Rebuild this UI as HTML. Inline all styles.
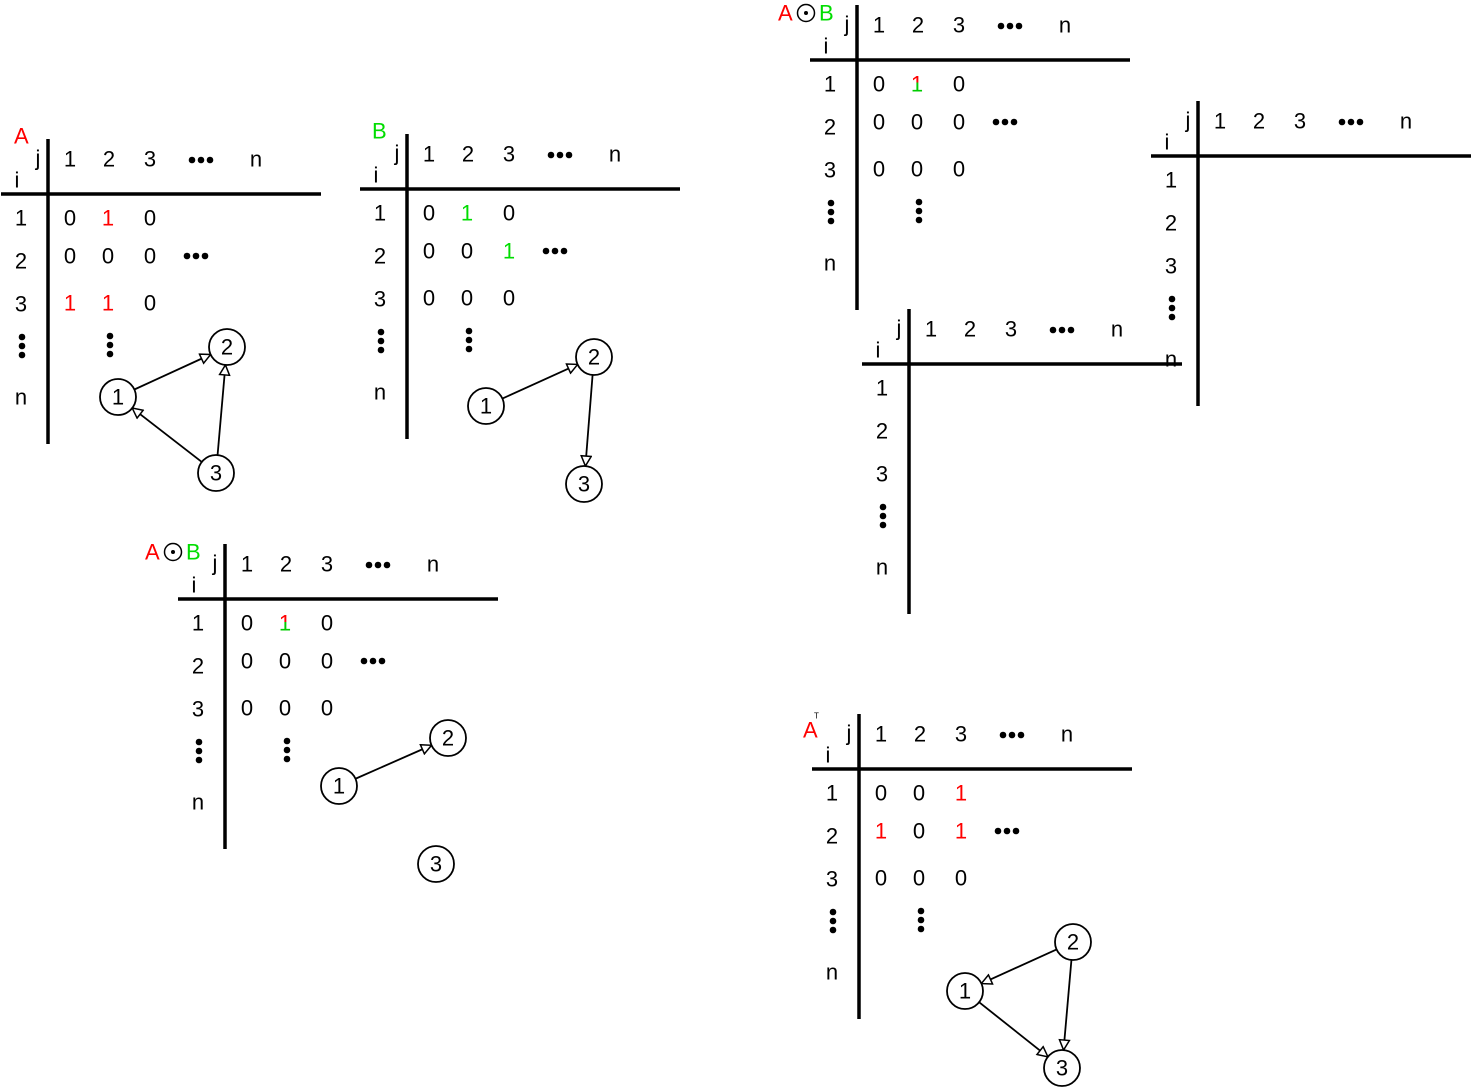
<!DOCTYPE html>
<html><head><meta charset="utf-8">
<style>
html,body{margin:0;padding:0;background:#fff;}
svg{display:block;}
text{font-family:"Liberation Sans","DejaVu Sans",sans-serif;font-size:22px;}
</style></head>
<body>
<svg id="svg" width="1471" height="1088" viewBox="0 0 1471 1088" xmlns="http://www.w3.org/2000/svg">
<defs>
<marker id="ah" viewBox="0 0 12 12" refX="11" refY="6" markerWidth="12" markerHeight="12" markerUnits="userSpaceOnUse" orient="auto">
<path d="M1,1 L11,6 L1,11 Z" fill="#fff" stroke="#000" stroke-width="1.5"/>
</marker>
<linearGradient id="rg" x1="0" y1="0" x2="0" y2="1">
<stop offset="0.45" stop-color="#ff0000"/><stop offset="0.45" stop-color="#00cc00"/>
</linearGradient>
</defs>
</svg>
<script>
// table origins: vertical line x, horizontal line y
const tableNames=['table-a','table-b','table-ab-top','table-empty-right','table-empty-middle','table-ab-bottom','table-a-transpose'];
const tableVX=[48,407,857,1198,909,225,859];
const tableHY=[194,189,60,156,364,599,769];
const tableFilled=[true,true,true,false,false,true,true];
const cellVals={
 0:[['0','1','0'],['0','0','0'],['1','1','0']],
 1:[['0','1','0'],['0','0','1'],['0','0','0']],
 2:[['0','1','0'],['0','0','0'],['0','0','0']],
 5:[['0','1','0'],['0','0','0'],['0','0','0']],
 6:[['0','0','1'],['1','0','1'],['0','0','0']]
};
const cellCols={
 0:[['k','r','k'],['k','k','k'],['r','r','k']],
 1:[['k','g','k'],['k','k','g'],['k','k','k']],
 2:[['k','m','k'],['k','k','k'],['k','k','k']],
 5:[['k','m','k'],['k','k','k'],['k','k','k']],
 6:[['k','k','r'],['r','k','r'],['k','k','k']]
};
const colHeaders=['1','2','3','n'];
const rowHeaders=['1','2','3','n'];
const graphNames=['graph-a','graph-b','graph-ab','graph-a-transpose'];
const nodeX=[[118,227,216],[486,594,584],[339,448,436],[965,1073,1062]];
const nodeY=[[397,347,473],[406,357,484],[786,738,864],[991,942,1068]];
const edges=[[[1,2],[3,1],[3,2]],[[1,2],[2,3]],[[1,2]],[[2,1],[1,3],[2,3]]];

const svg=document.getElementById('svg');
const NS='http://www.w3.org/2000/svg';
const colorMap={k:'#000',r:'#ff0000',g:'#00dd00',m:'url(#rg)'};
function mk(tag,attrs,parent){const e=document.createElementNS(NS,tag);for(const k in attrs)e.setAttribute(k,attrs[k]);(parent||svg).appendChild(e);return e;}
function txt(g,x,y,s,fill,name){const t=mk('text',{x:x,y:y,fill:fill||'#000','text-anchor':'middle','dominant-baseline':'central'},g);t.textContent=s;


return t;}
function hdots(g,x,y,name){const gg=mk('g',{},g);


[-9,0,9].forEach(d=>mk('circle',{cx:x+d,cy:y,r:3.3,fill:'#000'},gg));}
function vdots(g,x,y,name){const gg=mk('g',{},g);


[-9,0,9].forEach(d=>mk('circle',{cx:x,cy:y+d,r:3.3,fill:'#000'},gg));}

const colDX=[22,61,102,208], rowDY=[24,67,110,203];
const cellDX=[22,60,102], cellDY=[24,62,109];
tableNames.forEach((nm,ti)=>{
 const vx=tableVX[ti], hy=tableHY[ti];
 const g=mk('g',{});
 
 
 const vl=mk('line',{x1:vx,y1:hy-55,x2:vx,y2:hy+250,stroke:'#000','stroke-width':3.5},g);
 
 
 const hl=mk('line',{x1:vx-47,y1:hy,x2:vx+273,y2:hy,stroke:'#000','stroke-width':3.5},g);
 
 
 txt(g,vx-10,hy-36,'j','#000','j-label');
 txt(g,vx-31,hy-14,'i','#000','i-label');
 colHeaders.forEach((c,k)=>txt(g,vx+colDX[k],hy-35,c,'#000','col-header-'+c));
 hdots(g,vx+153,hy-34,'col-header-ellipsis');
 rowHeaders.forEach((r,k)=>txt(g,vx-27,hy+rowDY[k],r,'#000','row-header-'+r));
 vdots(g,vx-26,hy+152,'row-header-ellipsis');
 if(tableFilled[ti]){
  const vals=cellVals[ti], cols=cellCols[ti];
  for(let r=0;r<3;r++)for(let c=0;c<3;c++)txt(g,vx+cellDX[c],hy+cellDY[r],vals[r][c],colorMap[cols[r][c]],'cell-'+(r+1)+'-'+(c+1));
  hdots(g,vx+148,hy+62,'row-2-ellipsis');
  vdots(g,vx+62,hy+151,'col-2-ellipsis');
 }
});
(function(){
 let t=mk('text',{x:14,y:136,fill:'#ff0000','dominant-baseline':'central'});t.textContent='A';
 
 
 t=mk('text',{x:372,y:131,fill:'#00dd00','dominant-baseline':'central'});t.textContent='B';
 
 
 [[778,13],[145,552]].forEach((p,k)=>{
  const g=mk('g',{});
  
  
  let a=mk('text',{x:p[0],y:p[1],fill:'#ff0000','dominant-baseline':'central'},g);a.textContent='A';
  mk('circle',{cx:p[0]+28,cy:p[1],r:8.5,fill:'none',stroke:'#000','stroke-width':1.5},g);
  mk('circle',{cx:p[0]+28,cy:p[1],r:2,fill:'#000'},g);
  let b=mk('text',{x:p[0]+41,y:p[1],fill:'#00dd00','dominant-baseline':'central'},g);b.textContent='B';
 });
 t=mk('text',{x:803,y:730,fill:'#ff0000','dominant-baseline':'central'});t.textContent='A';
 
 
 t=mk('text',{x:814,y:716,fill:'#000','dominant-baseline':'central',style:'font-size:8px'});t.textContent='T';
 
 
})();
const R=18;
graphNames.forEach((nm,gi)=>{
 const g=mk('g',{});
 
 
 edges[gi].forEach(e=>{
  const a=e[0]-1,b=e[1]-1;
  const x1=nodeX[gi][a],y1=nodeY[gi][a],x2=nodeX[gi][b],y2=nodeY[gi][b];
  const d=Math.hypot(x2-x1,y2-y1),ux=(x2-x1)/d,uy=(y2-y1)/d;
  const l=mk('line',{x1:x1+ux*R,y1:y1+uy*R,x2:x2-ux*R,y2:y2-uy*R,stroke:'#000','stroke-width':1.8,'marker-end':'url(#ah)'},g);
  
  
 });
 for(let n=0;n<3;n++){
  const c=mk('circle',{cx:nodeX[gi][n],cy:nodeY[gi][n],r:R,fill:'#fff',stroke:'#000','stroke-width':1.8},g);
  
  
  txt(g,nodeX[gi][n],nodeY[gi][n],String(n+1),'#000','node-label-'+(n+1));
 }
});
</script>
</body></html>
